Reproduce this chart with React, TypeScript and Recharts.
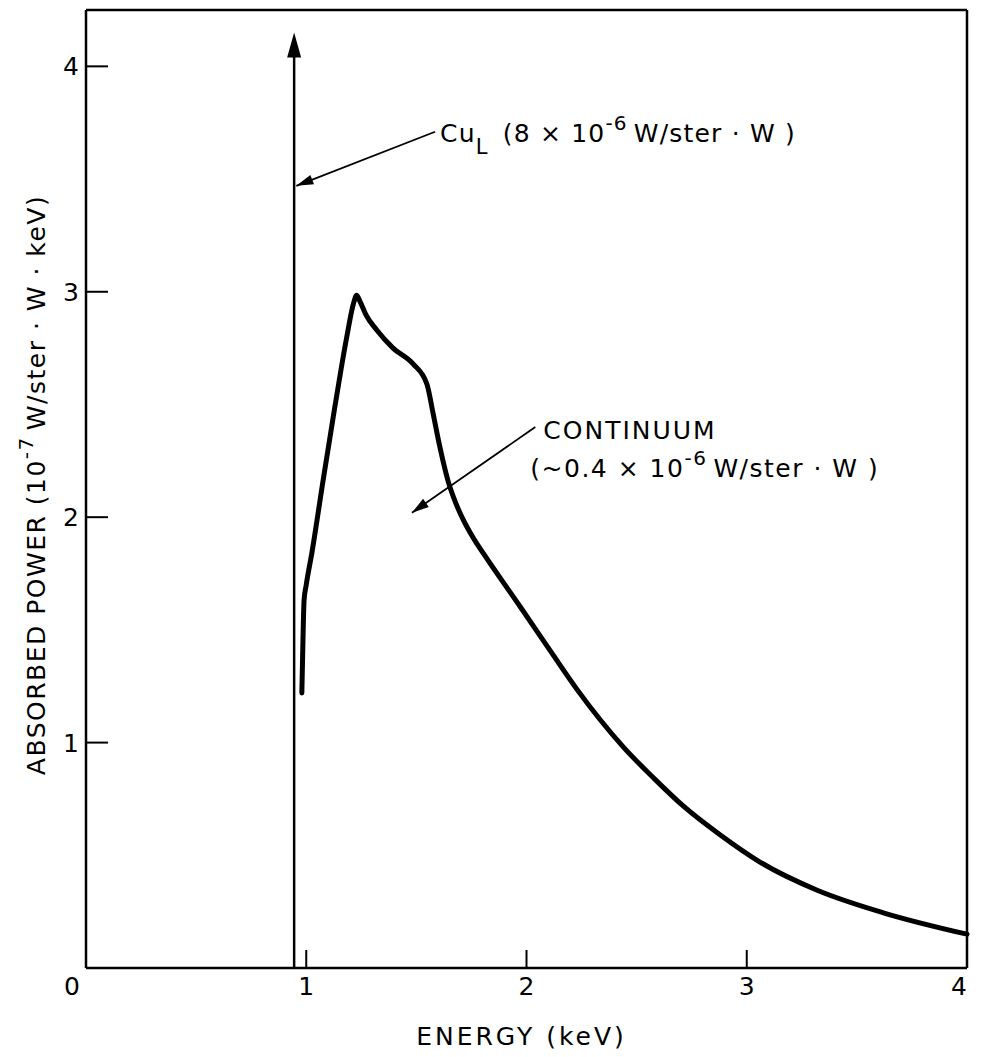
import React from 'react';
import { LineChart, Line, XAxis, YAxis, ReferenceLine, Label } from 'recharts';

// continuum curve (keV, 10^-7 W/ster·W·keV)
const energy = [0.98, 0.985, 0.99, 1.0, 1.027, 1.076, 1.13, 1.184, 1.215, 1.229, 1.245, 1.27, 1.32, 1.394, 1.485, 1.548, 1.576, 1.607, 1.644, 1.68, 1.712, 1.76, 1.821, 1.97, 2.12, 2.23, 2.44, 2.58, 2.71, 2.88, 3.06, 3.32, 3.62, 4.0];
const power = [1.22, 1.45, 1.63, 1.7, 1.85, 2.16, 2.49, 2.8, 2.95, 2.985, 2.955, 2.9, 2.83, 2.75, 2.68, 2.59, 2.46, 2.31, 2.16, 2.06, 1.99, 1.905, 1.815, 1.605, 1.39, 1.235, 0.98, 0.84, 0.72, 0.59, 0.47, 0.345, 0.245, 0.15];

const xTicks = [0, 1, 2, 3, 4];
const yTicks = [1, 2, 3, 4];

// Cu L line
const cuEnergy = 0.945;
const cuHeight = 4.15;

// annotation arrows: [tail, tip]
const cuArrow = [{ x: 1.585, y: 3.71 }, { x: 0.955, y: 3.47 }];
const contArrow = [{ x: 2.04, y: 2.4 }, { x: 1.48, y: 2.02 }];

const data = energy.map((e, i) => ({ e, p: power[i] }));

const FONT = '"DejaVu Sans", sans-serif';

const arrowHead = (x1: number, y1: number, x2: number, y2: number, len: number, half: number) => {
  const a = Math.atan2(y2 - y1, x2 - x1);
  const bx = x2 - len * Math.cos(a);
  const by = y2 - len * Math.sin(a);
  const px = -Math.sin(a) * half;
  const py = Math.cos(a) * half;
  return `${x2},${y2} ${bx + px},${by + py} ${bx - px},${by - py}`;
};

const CuLine = (props: any) => {
  const { x1, y1, x2, y2 } = props;
  return (
    <g>
      <line x1={x1} y1={y1} x2={x2} y2={y2 + 20} stroke="#000" strokeWidth={2.5} />
      <polygon points={arrowHead(x1, y1, x2, y2, 25, 7)} fill="#000" />
    </g>
  );
};

const CuLabel = (props: any) => {
  const { x1, y1, x2, y2 } = props;
  return (
    <g>
      <line x1={x1} y1={y1} x2={x2} y2={y2} stroke="#000" strokeWidth={1.8} />
      <polygon points={arrowHead(x1, y1, x2, y2, 17, 5)} fill="#000" />
      <text x={x1 + 5} y={y1 + 10} fontFamily={FONT} fontSize={25} fill="#000" letterSpacing={1.2}>
        Cu
        <tspan fontSize={21} dy={12}>L</tspan>
        <tspan dy={-12} dx={14}>(8 × 10</tspan>
        <tspan fontSize={20} dy={-12}>-6</tspan>
        <tspan dy={12} dx={6}>W/ster · W )</tspan>
      </text>
    </g>
  );
};

const ContLabel = (props: any) => {
  const { x1, y1, x2, y2 } = props;
  return (
    <g>
      <line x1={x1} y1={y1} x2={x2} y2={y2} stroke="#000" strokeWidth={1.8} />
      <polygon points={arrowHead(x1, y1, x2, y2, 17, 5)} fill="#000" />
      <text x={x1 + 8} y={y1 + 12} fontFamily={FONT} fontSize={25} fill="#000" letterSpacing={2}>
        CONTINUUM
      </text>
      <text x={x1 - 5} y={y1 + 50} fontFamily={FONT} fontSize={25} fill="#000" letterSpacing={1.5}>
        (~0.4 × 10
        <tspan fontSize={20} dy={-12}>-6</tspan>
        <tspan dy={12} dx={6}>W/ster · W )</tspan>
      </text>
    </g>
  );
};

const XTick = (props: any) => {
  const { x, y, payload } = props;
  const v = payload.value;
  const dx = v === 0 ? -14 : v === 4 ? -8 : 0;
  return (
    <g>
      {v !== 0 && v !== 4 && <line x1={x} y1={y} x2={x} y2={y - 18} stroke="#000" strokeWidth={2} />}
      <text x={x + dx} y={y + 27} textAnchor="middle" fontFamily={FONT} fontSize={25} fill="#000">
        {v}
      </text>
    </g>
  );
};

const YTick = (props: any) => {
  const { x, y, payload } = props;
  return (
    <g>
      <line x1={x} y1={y} x2={x + 22} y2={y} stroke="#000" strokeWidth={2} />
      <text x={x - 7} y={y + 9} textAnchor="end" fontFamily={FONT} fontSize={25} fill="#000">
        {payload.value}
      </text>
    </g>
  );
};

const XTitle = (props: any) => {
  const vb = props.viewBox;
  return (
    <text x={vb.x + vb.width / 2 - 5} y={vb.y + 77} textAnchor="middle" fontFamily={FONT} fontSize={25} fill="#000" letterSpacing={3}>
      ENERGY (keV)
    </text>
  );
};

const YTitle = (props: any) => {
  const vb = props.viewBox;
  const cx = vb.x + vb.width - 41;
  const cy = 485;
  return (
    <text x={cx} y={cy} transform={`rotate(-90 ${cx} ${cy})`} textAnchor="middle" fontFamily={FONT} fontSize={25} fill="#000" letterSpacing={1.5}>
      ABSORBED POWER (10
      <tspan fontSize={20} dy={-12}>-7</tspan>
      <tspan dy={12} dx={6}>W/ster · W · keV)</tspan>
    </text>
  );
};

export default function App() {
  return (
    <div style={{ position: 'absolute', left: 0, top: 0, background: '#fff' }}>
      <LineChart width={981} height={1057} data={data} margin={{ top: 9, right: 13, bottom: 88, left: 85 }}>
        <XAxis
          dataKey="e"
          type="number"
          domain={[0, 4]}
          ticks={xTicks}
          interval={0}
          height={1}
          tickSize={0}
          tickMargin={0}
          tickLine={false}
          axisLine={{ stroke: '#000', strokeWidth: 2.5 }}
          tick={<XTick />}
        >
          <Label content={<XTitle />} />
        </XAxis>
        <XAxis xAxisId="top" orientation="top" type="number" domain={[0, 4]} height={1} tick={false} tickLine={false} axisLine={{ stroke: '#000', strokeWidth: 2.5 }} />
        <YAxis
          type="number"
          domain={[0, 4.25]}
          ticks={yTicks}
          interval={0}
          width={1}
          tickSize={0}
          tickMargin={0}
          tickLine={false}
          axisLine={{ stroke: '#000', strokeWidth: 2.5 }}
          tick={<YTick />}
        >
          <Label content={<YTitle />} />
        </YAxis>
        <YAxis yAxisId="right" orientation="right" type="number" domain={[0, 4.25]} width={1} tick={false} tickLine={false} axisLine={{ stroke: '#000', strokeWidth: 2.5 }} />
        <ReferenceLine
          segment={[{ x: cuEnergy, y: 0 }, { x: cuEnergy, y: cuHeight }]}
          ifOverflow="visible"
          shape={<CuLine />}
        />
        <ReferenceLine segment={cuArrow} ifOverflow="visible" shape={<CuLabel />} />
        <ReferenceLine segment={contArrow} ifOverflow="visible" shape={<ContLabel />} />
        <Line
          dataKey="p"
          type="monotone"
          stroke="#000"
          strokeWidth={5}
          strokeLinecap="round"
          dot={false}
          activeDot={false}
          isAnimationActive={false}
        />
      </LineChart>
    </div>
  );
}
